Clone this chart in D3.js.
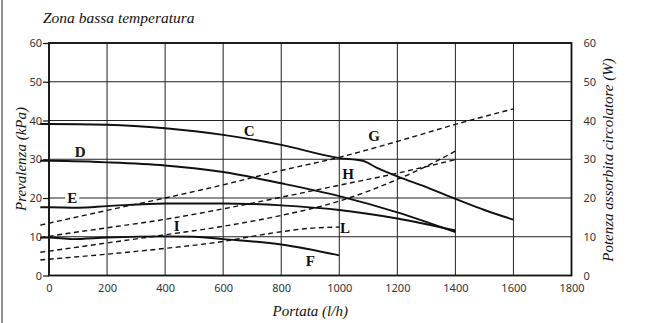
<!DOCTYPE html>
<html><head><meta charset="utf-8">
<script src="https://cdn.jsdelivr.net/npm/d3@7"></script>
<style>
html,body{margin:0;padding:0;background:#fff;}
svg{display:block;}
</style></head>
<body>
<svg id="chart" width="646" height="323"></svg>
<script>
// ---- data ----
const titleText = "Zona bassa temperatura";
const xTitle = "Portata (l/h)";
const yLeftTitle = "Prevalenza (kPa)";
const yRightTitle = "Potenza assorbita circolatore (W)";
const xTicks = [0,200,400,600,800,1000,1200,1400,1600,1800];
const yTicks = [0,10,20,30,40,50,60];

// pump head curves (solid) [flow l/h, kPa]
const curveC = [[-30,39.1],[0,39.1],[200,38.9],[400,38.0],[600,36.3],[800,33.7],[1000,30.3],[1080,29.6],[1130,27.8],[1200,25.6],[1300,22.8],[1400,19.8],[1500,16.9],[1600,14.4]];
const curveD = [[-30,29.6],[0,29.6],[200,29.2],[400,28.4],[600,26.7],[800,23.8],[1000,20.5],[1200,16.3],[1400,11.2]];
const curveE = [[-30,17.6],[0,17.6],[100,17.5],[200,17.9],[400,18.6],[600,18.6],[800,18.1],[1000,16.9],[1200,14.7],[1400,11.6]];
const curveF = [[-30,9.8],[0,9.8],[80,9.4],[200,9.8],[400,10.1],[500,10.0],[600,9.4],[800,8.0],[1000,5.2]];
// absorbed power curves (dashed) [flow l/h, W]
const curveG = [[-30,13.0],[0,13.5],[200,16.8],[400,20.0],[600,23.4],[800,27.1],[1000,30.5],[1200,34.6],[1400,39.0],[1600,43.0]];
const curveH = [[-30,9.7],[0,10.1],[200,12.3],[400,14.5],[600,17.2],[800,20.2],[1000,23.3],[1200,26.4],[1400,29.9]];
const curveI = [[-30,6.0],[0,6.3],[200,8.4],[400,10.5],[600,12.7],[800,15.5],[1000,19.2],[1200,24.8],[1300,28.2],[1400,32.1]];
const curveL = [[-30,4.0],[0,4.2],[200,5.5],[400,7.0],[600,8.8],[700,10.1],[800,11.3],[900,12.2],[1000,12.5]];

const seriesNames = ["C","D","E","F","G","H","I","L"];
const seriesData = [curveC,curveD,curveE,curveF,curveG,curveH,curveI,curveL];
const seriesDashed = [false,false,false,false,true,true,true,true];
// label anchor points in data units [flow, value]
const labelPos = [[690,37.4],[107,32.0],[80,19.9],[900,3.8],[1120,36.0],[1030,26.3],[440,12.7],[1020,12.3]];

// ---- layout ----
const svg = d3.select("#chart");
const m = {left:49, right:571.5, top:43, bottom:275.5};
const x = d3.scaleLinear().domain([0,1800]).range([m.left, m.right]);
const y = d3.scaleLinear().domain([0,60]).range([m.bottom, m.top]);

// page frame line on left
svg.append("line").attr("x1",2).attr("x2",2).attr("y1",0).attr("y2",323)
  .attr("stroke","#444").attr("stroke-width",1.2);

// title
svg.append("text").attr("x",43).attr("y",23).text(titleText)
  .attr("font-family","Liberation Serif, DejaVu Serif, serif").attr("font-style","italic")
  .attr("font-size",15.5).attr("fill","#111");

// grid
const g = svg.append("g");
g.selectAll("line.v").data(xTicks).join("line")
  .attr("x1",d=>x(d)).attr("x2",d=>x(d)).attr("y1",m.top).attr("y2",m.bottom)
  .attr("stroke","#222").attr("stroke-width",1);
g.selectAll("line.h").data(yTicks).join("line")
  .attr("x1",m.left).attr("x2",m.right).attr("y1",d=>y(d)).attr("y2",d=>y(d))
  .attr("stroke","#222").attr("stroke-width",1);

// left axis
const tickFont = "Noto Sans, Open Sans, DejaVu Sans, sans-serif";
const leftAxis = svg.append("g").attr("transform",`translate(${m.left},0)`)
  .call(d3.axisLeft(y).tickValues(yTicks).tickSize(6).tickPadding(1));
leftAxis.select(".domain").remove();
leftAxis.selectAll("line").attr("stroke","#111").attr("stroke-width",1.2);
leftAxis.selectAll("text").attr("font-family",tickFont).attr("font-size",11).attr("fill","#333");

// right axis
const rightAxis = svg.append("g").attr("transform",`translate(${m.right},0)`)
  .call(d3.axisRight(y).tickValues(yTicks).tickSize(0).tickPadding(12));
rightAxis.select(".domain").remove();
rightAxis.selectAll("text").attr("font-family",tickFont).attr("font-size",11).attr("fill","#333");

// bottom axis
const bottomAxis = svg.append("g").attr("transform",`translate(0,${m.bottom})`)
  .call(d3.axisBottom(x).tickValues(xTicks).tickFormat(d3.format("d")).tickSize(0).tickPadding(9));
bottomAxis.select(".domain").remove();
bottomAxis.selectAll("text").attr("font-family",tickFont).attr("font-size",11).attr("fill","#333");

// plot border
svg.append("rect").attr("x",m.left).attr("y",m.top)
  .attr("width",m.right-m.left).attr("height",m.bottom-m.top)
  .attr("fill","none").attr("stroke","#111").attr("stroke-width",1.8);

// curves
const line = d3.line().x(d=>x(d[0])).y(d=>y(d[1])).curve(d3.curveMonotoneX);
seriesData.forEach((data,i)=>{
  svg.append("path").datum(data).attr("d",line)
    .attr("fill","none").attr("stroke","#111")
    .attr("stroke-width",seriesDashed[i]?1.4:1.9)
    .attr("stroke-dasharray",seriesDashed[i]?"5,3.5":null);
});

// curve labels
const lab = svg.append("g");
seriesNames.forEach((n,i)=>{
  const px = x(labelPos[i][0]), py = y(labelPos[i][1]);
  if(n==="E"){
    lab.append("rect").attr("x",px-7).attr("y",py-7).attr("width",14).attr("height",13).attr("fill","#fff");
  }
  lab.append("text").attr("x",px).attr("y",py).text(n)
    .attr("text-anchor","middle").attr("dominant-baseline","central")
    .attr("font-family","Liberation Serif, DejaVu Serif, serif").attr("font-weight","bold")
    .attr("font-size",15).attr("fill","#111");
});

// axis titles
const titleFont = "Liberation Serif, DejaVu Serif, serif";
svg.append("text").attr("x",(m.left+m.right)/2).attr("y",316).text(xTitle)
  .attr("text-anchor","middle").attr("font-family",titleFont).attr("font-style","italic")
  .attr("font-size",15).attr("fill","#111");
svg.append("text").attr("transform",`translate(26,159) rotate(-90)`).text(yLeftTitle)
  .attr("text-anchor","middle").attr("font-family",titleFont).attr("font-style","italic")
  .attr("font-size",15).attr("fill","#111");
svg.append("text").attr("transform",`translate(613,160) rotate(-90)`).text(yRightTitle)
  .attr("text-anchor","middle").attr("font-family",titleFont).attr("font-style","italic")
  .attr("font-size",15).attr("fill","#111");
</script>
</body></html>
